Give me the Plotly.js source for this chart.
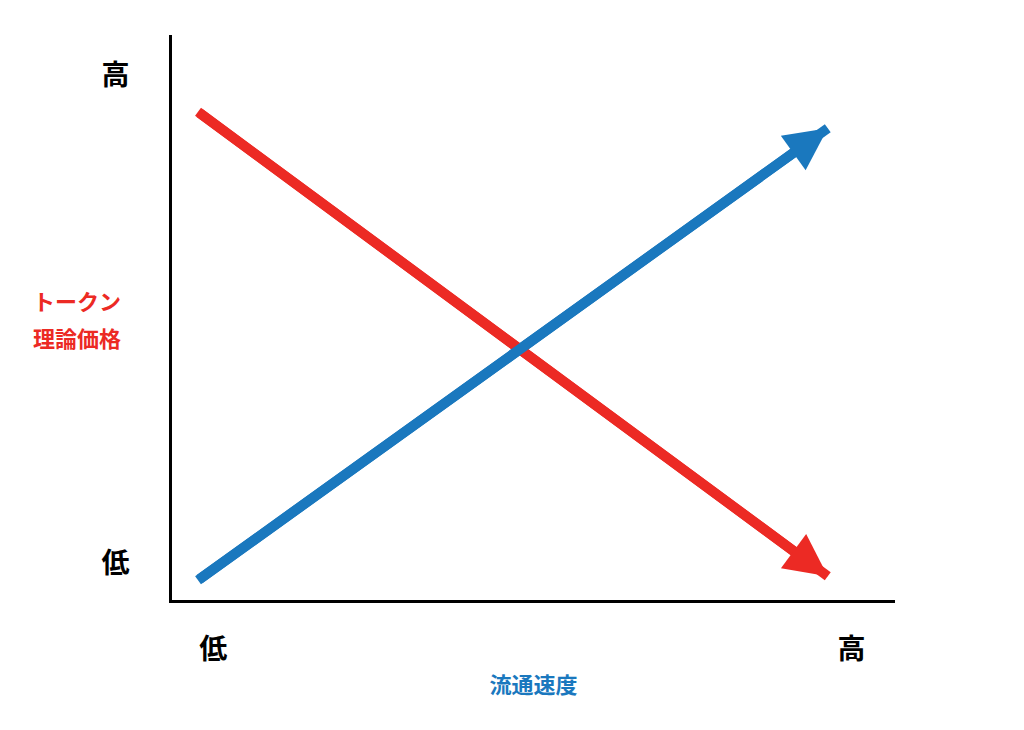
<!DOCTYPE html>
<html>
<head>
<meta charset="utf-8">
<script src="https://cdn.plot.ly/plotly-3.0.1.min.js"></script>
<style>
  html, body { margin: 0; padding: 0; background: #fff; }
  #chart { width: 1024px; height: 730px; }
</style>
</head>
<body>
<div id="chart"></div>
<script>
// two schematic lines on a 0-10 scale
var priceX = [0.36, 9.07];
var priceY = [8.64, 0.42];
var velocityX = [0.36, 9.07];
var velocityY = [0.35, 8.35];

var xTickVals = [0.57, 9.4];
var xTickText = ['低', '高'];
var yTickVals = [0.65, 9.29];
var yTickText = ['低', '高'];

var red = '#ec2a24';
var blue = '#1a78be';
var jp = '"Noto Sans CJK JP", "Noto Sans", sans-serif';

var traces = [{
    x: priceX,
    y: priceY,
    mode: 'lines',
    line: { color: red, width: 10, backoff: 30 },
    hoverinfo: 'skip'
}, {
    x: velocityX,
    y: velocityY,
    mode: 'lines',
    line: { color: blue, width: 10, backoff: 30 },
    hoverinfo: 'skip'
}];

// arrowheads at the end of each line
function arrowAt(xs, ys, color) {
    var n = xs.length - 1;
    return {
        x: xs[n], y: ys[n], xref: 'x', yref: 'y',
        ax: xs[n - 1], ay: ys[n - 1], axref: 'x', ayref: 'y',
        text: '', showarrow: true,
        arrowhead: 2, arrowsize: 0.85, arrowwidth: 10, arrowcolor: color
    };
}

function label(text, y) {
    return {
        text: text,
        xref: 'paper', yref: 'paper',
        x: -0.131, y: y,
        xanchor: 'center', yanchor: 'middle',
        showarrow: false,
        font: { size: 22, weight: 'bold', color: red, family: jp }
    };
}

var layout = {
    width: 1024,
    height: 730,
    margin: { l: 172, r: 129, t: 35, b: 130 },
    paper_bgcolor: '#fff',
    plot_bgcolor: '#fff',
    showlegend: false,
    font: { family: jp, color: '#000' },
    xaxis: {
        range: [0, 10],
        showline: true, linecolor: '#000', linewidth: 3,
        showgrid: false, zeroline: false,
        tickvals: xTickVals, ticktext: xTickText,
        ticks: '', ticklabelstandoff: 22,
        tickfont: { size: 28, weight: 'bold', family: jp },
        title: {
            text: '流通速度',
            standoff: 13,
            font: { size: 22, weight: 'bold', color: blue, family: jp }
        },
        fixedrange: true
    },
    yaxis: {
        range: [0, 10],
        showline: true, linecolor: '#000', linewidth: 3,
        showgrid: false, zeroline: false,
        tickvals: yTickVals, ticktext: yTickText,
        ticks: '', ticklabelstandoff: 34,
        tickfont: { size: 28, weight: 'bold', family: jp },
        fixedrange: true
    },
    annotations: [
        arrowAt(priceX, priceY, red),
        arrowAt(velocityX, velocityY, blue),
        label('トークン', 0.531),
        label('理論価格', 0.465)
    ]
};

Plotly.newPlot('chart', traces, layout, { staticPlot: true });
</script>
</body>
</html>
